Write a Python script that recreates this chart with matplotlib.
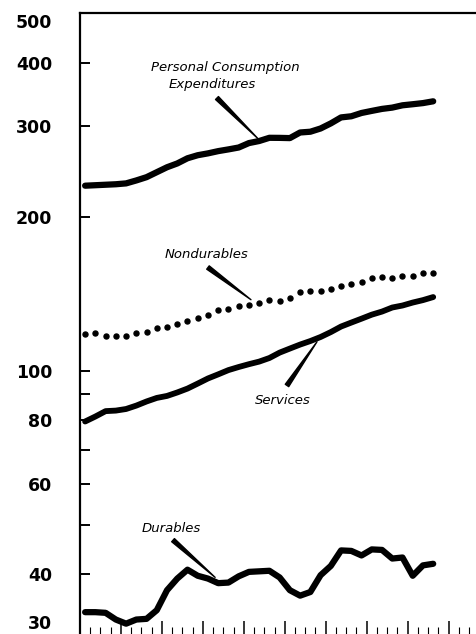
import numpy as np
import matplotlib
matplotlib.use('Agg')
import matplotlib.pyplot as plt
from matplotlib.ticker import FixedLocator, NullFormatter
from matplotlib.transforms import ScaledTranslation

# quarterly figures, billions of dollars (ratio scale)
quarter = np.arange(35)
pce = [229.8, 230.3, 230.8, 231.3, 232.2, 235.3, 238.8, 244.2, 249.7, 254.0,
       260.0, 263.6, 265.8, 268.5, 270.6, 272.9, 278.4, 281.0, 285.1, 285.0,
       284.7, 292.0, 293.0, 297.3, 304.2, 312.5, 314.1, 318.8, 321.8, 324.7,
       326.6, 330.0, 331.6, 333.3, 336.0]
nondurables = [117.9, 118.5, 117.0, 117.0, 117.0, 118.3, 118.8, 121.0, 121.5, 123.4,
               125.2, 126.7, 128.6, 131.4, 132.2, 133.6, 134.2, 135.5, 137.6, 137.0,
               138.7, 142.2, 142.8, 143.3, 144.4, 146.6, 147.7, 148.8, 151.7, 152.6,
               151.7, 153.3, 153.3, 154.9, 154.9]
services = [79.5, 81.3, 83.3, 83.5, 84.1, 85.4, 87.0, 88.4, 89.2, 90.6,
            92.2, 94.3, 96.5, 98.3, 100.2, 101.6, 102.9, 104.1, 105.8, 108.4,
            110.4, 112.4, 114.2, 116.3, 118.9, 121.9, 124.1, 126.3, 128.6, 130.4,
            132.8, 134.0, 135.8, 137.3, 139.2]
durables = [33.7, 33.7, 33.6, 32.6, 32.0, 32.6, 32.7, 34.0, 37.2, 39.2,
            40.8, 39.7, 39.2, 38.4, 38.5, 39.6, 40.4, 40.5, 40.6, 39.4,
            37.2, 36.3, 36.9, 39.8, 41.5, 44.5, 44.4, 43.5, 44.7, 44.6,
            42.9, 43.1, 39.7, 41.6, 41.9]

y_ticks = [30, 40, 50, 60, 70, 80, 90, 100, 200, 300, 400, 500]
y_labels = ['30', '40', '', '60', '', '80', '', '100', '200', '300', '400', '500']

fig = plt.figure(figsize=(4.76, 6.34), dpi=100)
ax = fig.add_axes([80 / 476, -4 / 634, 409.5 / 476, 625 / 634])

ax.plot(quarter, pce, color='black', lw=4.5, solid_capstyle='round', solid_joinstyle='round')
ax.plot(quarter, services, color='black', lw=4.2, solid_capstyle='round', solid_joinstyle='round')
ax.plot(quarter, durables, color='black', lw=4.5, solid_capstyle='round', solid_joinstyle='round')
ax.plot(quarter, nondurables, linestyle='none', marker='o', ms=3.6, color='black')

ax.set_yscale('log')
ax.set_ylim(30, 500)
ax.set_xlim(-0.5, 39.5)

ax.yaxis.set_major_locator(FixedLocator(y_ticks))
ax.set_yticklabels(y_labels)
ax.yaxis.set_minor_locator(FixedLocator([]))
ax.yaxis.set_minor_formatter(NullFormatter())
ax.tick_params(axis='y', direction='in', length=7, width=1.4, pad=20,
               labelsize=12.5)
for lab in ax.get_yticklabels():
    lab.set_fontweight('bold')
    if lab.get_text() == '500':
        lab.set_transform(lab.get_transform() + ScaledTranslation(0, -0.08, fig.dpi_scale_trans))
    if lab.get_text() == '30':
        lab.set_transform(lab.get_transform() + ScaledTranslation(0, 0.16, fig.dpi_scale_trans))

# year marks long, quarter marks short
ax.set_xticks(np.arange(-0.5, 40, 4))
ax.set_xticks(np.arange(-0.5, 40, 1), minor=True)
ax.tick_params(axis='x', which='major', direction='in', length=12, width=1.1,
               labelbottom=False)
ax.tick_params(axis='x', which='minor', direction='in', length=8, width=0.8)

for side in ['left', 'top', 'bottom']:
    ax.spines[side].set_linewidth(1.6)
ax.spines['right'].set_visible(False)

label_font = dict(fontsize=9.5, style='italic', color='black', ha='center', va='center')
wedge = dict(arrowstyle='wedge,tail_width=0.3,shrink_factor=0.5', color='black',
             shrinkA=0, shrinkB=0)

ax.text(13.66, 392, 'Personal Consumption', **label_font)
ax.text(12.4, 363, 'Expenditures', **label_font)
ax.annotate('', xy=(16.9, pce[17] * 1.01), xytext=(12.88, 341), arrowprops=wedge)

ax.text(11.9, 168.5, 'Nondurables', **label_font)
ax.annotate('', xy=(16.2, nondurables[16] * 1.025), xytext=(12.0, 159), arrowprops=wedge)

ax.text(19.33, 87.4, 'Services', **label_font)
ax.annotate('', xy=(22.65, np.interp(22.65, quarter, services) * 0.985),
            xytext=(19.72, 93.5), arrowprops=wedge)

ax.text(8.4, 49.1, 'Durables', **label_font)
ax.annotate('', xy=(12.7, np.interp(12.7, quarter, durables) * 1.02),
            xytext=(8.59, 46.6), arrowprops=wedge)

fig.savefig('out.png', dpi=100)
